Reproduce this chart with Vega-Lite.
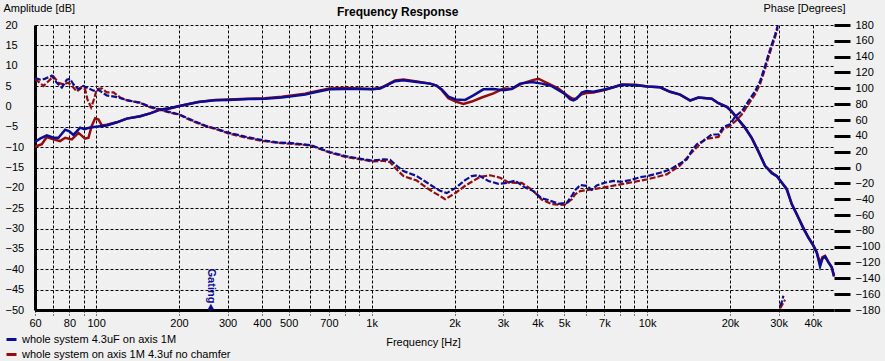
{
"$schema": "https://vega.github.io/schema/vega-lite/v6.json",
"width": 799, "height": 285,
"autosize": {"type": "none"},
"padding": {"left": 35, "top": 25, "right": 51, "bottom": 51},
"background": "#f0f0f0",
"config": {
  "view": {"stroke": null, "fill": "#f0f0f0"},
  "font": "Liberation Sans",
  "axis": {"labelFont": "Liberation Sans", "labelFontSize": 11, "labelColor": "#000", "titleFont": "Liberation Sans", "titleFontSize": 11, "titleFontWeight": "normal", "titleColor": "#000"}
},
"title": {"text": "Frequency Response", "anchor": "start", "frame": "group", "dx": 302, "dy": 24, "offset": 7, "fontSize": 12, "fontWeight": "bold", "font": "Liberation Sans", "color": "#000"},
"datasets": {
  "amp": [
    {"f":60,"v":-9.9,"s":"whole system on axis 1M 4.3uf no chamfer"},{"f":63.5,"v":-9.3,"s":"whole system on axis 1M 4.3uf no chamfer"},{"f":66.2,"v":-7.5,"s":"whole system on axis 1M 4.3uf no chamfer"},{"f":70,"v":-8.1,"s":"whole system on axis 1M 4.3uf no chamfer"},{"f":74,"v":-8.5,"s":"whole system on axis 1M 4.3uf no chamfer"},{"f":77.2,"v":-7.7,"s":"whole system on axis 1M 4.3uf no chamfer"},{"f":81.6,"v":-8.1,"s":"whole system on axis 1M 4.3uf no chamfer"},{"f":86.3,"v":-6.5,"s":"whole system on axis 1M 4.3uf no chamfer"},{"f":91.2,"v":-7.9,"s":"whole system on axis 1M 4.3uf no chamfer"},{"f":93.8,"v":-7.7,"s":"whole system on axis 1M 4.3uf no chamfer"},{"f":96.4,"v":-4.8,"s":"whole system on axis 1M 4.3uf no chamfer"},{"f":99.2,"v":-2.9,"s":"whole system on axis 1M 4.3uf no chamfer"},{"f":102,"v":-3.2,"s":"whole system on axis 1M 4.3uf no chamfer"},{"f":104.9,"v":-4.7,"s":"whole system on axis 1M 4.3uf no chamfer"},{"f":109.3,"v":-4.5,"s":"whole system on axis 1M 4.3uf no chamfer"},{"f":118.9,"v":-3.9,"s":"whole system on axis 1M 4.3uf no chamfer"},{"f":129.2,"v":-3.0,"s":"whole system on axis 1M 4.3uf no chamfer"},{"f":144.5,"v":-2.4,"s":"whole system on axis 1M 4.3uf no chamfer"},{"f":157,"v":-1.7,"s":"whole system on axis 1M 4.3uf no chamfer"},{"f":170.8,"v":-0.8,"s":"whole system on axis 1M 4.3uf no chamfer"},{"f":185.6,"v":-0.5,"s":"whole system on axis 1M 4.3uf no chamfer"},{"f":200.7,"v":0.1,"s":"whole system on axis 1M 4.3uf no chamfer"},{"f":235,"v":1.1,"s":"whole system on axis 1M 4.3uf no chamfer"},{"f":270,"v":1.6,"s":"whole system on axis 1M 4.3uf no chamfer"},{"f":302,"v":1.7,"s":"whole system on axis 1M 4.3uf no chamfer"},{"f":357,"v":1.9,"s":"whole system on axis 1M 4.3uf no chamfer"},{"f":410,"v":2.0,"s":"whole system on axis 1M 4.3uf no chamfer"},{"f":472,"v":2.4,"s":"whole system on axis 1M 4.3uf no chamfer"},{"f":574,"v":3.1,"s":"whole system on axis 1M 4.3uf no chamfer"},{"f":605,"v":3.5,"s":"whole system on axis 1M 4.3uf no chamfer"},{"f":703,"v":4.4,"s":"whole system on axis 1M 4.3uf no chamfer"},{"f":803,"v":4.5,"s":"whole system on axis 1M 4.3uf no chamfer"},{"f":903,"v":4.4,"s":"whole system on axis 1M 4.3uf no chamfer"},{"f":1007,"v":4.3,"s":"whole system on axis 1M 4.3uf no chamfer"},{"f":1074,"v":4.5,"s":"whole system on axis 1M 4.3uf no chamfer"},{"f":1135,"v":5.3,"s":"whole system on axis 1M 4.3uf no chamfer"},{"f":1217,"v":6.4,"s":"whole system on axis 1M 4.3uf no chamfer"},{"f":1305,"v":6.6,"s":"whole system on axis 1M 4.3uf no chamfer"},{"f":1459,"v":6.1,"s":"whole system on axis 1M 4.3uf no chamfer"},{"f":1631,"v":5.6,"s":"whole system on axis 1M 4.3uf no chamfer"},{"f":1720,"v":5.1,"s":"whole system on axis 1M 4.3uf no chamfer"},{"f":1798,"v":4.0,"s":"whole system on axis 1M 4.3uf no chamfer"},{"f":1900,"v":2.0,"s":"whole system on axis 1M 4.3uf no chamfer"},{"f":2021,"v":1.2,"s":"whole system on axis 1M 4.3uf no chamfer"},{"f":2154,"v":0.6,"s":"whole system on axis 1M 4.3uf no chamfer"},{"f":2310,"v":1.2,"s":"whole system on axis 1M 4.3uf no chamfer"},{"f":2511,"v":2.2,"s":"whole system on axis 1M 4.3uf no chamfer"},{"f":2769,"v":3.2,"s":"whole system on axis 1M 4.3uf no chamfer"},{"f":3010,"v":4.4,"s":"whole system on axis 1M 4.3uf no chamfer"},{"f":3227,"v":4.3,"s":"whole system on axis 1M 4.3uf no chamfer"},{"f":3508,"v":5.6,"s":"whole system on axis 1M 4.3uf no chamfer"},{"f":3814,"v":6.4,"s":"whole system on axis 1M 4.3uf no chamfer"},{"f":4033,"v":6.8,"s":"whole system on axis 1M 4.3uf no chamfer"},{"f":4385,"v":5.6,"s":"whole system on axis 1M 4.3uf no chamfer"},{"f":4767,"v":4.4,"s":"whole system on axis 1M 4.3uf no chamfer"},{"f":5110,"v":2.8,"s":"whole system on axis 1M 4.3uf no chamfer"},{"f":5328,"v":2.0,"s":"whole system on axis 1M 4.3uf no chamfer"},{"f":5479,"v":1.8,"s":"whole system on axis 1M 4.3uf no chamfer"},{"f":5792,"v":3.0,"s":"whole system on axis 1M 4.3uf no chamfer"},{"f":6023,"v":3.3,"s":"whole system on axis 1M 4.3uf no chamfer"},{"f":6386,"v":3.4,"s":"whole system on axis 1M 4.3uf no chamfer"},{"f":7061,"v":4.1,"s":"whole system on axis 1M 4.3uf no chamfer"},{"f":7547,"v":4.7,"s":"whole system on axis 1M 4.3uf no chamfer"},{"f":8093,"v":5.4,"s":"whole system on axis 1M 4.3uf no chamfer"},{"f":9098,"v":5.3,"s":"whole system on axis 1M 4.3uf no chamfer"},{"f":10028,"v":4.9,"s":"whole system on axis 1M 4.3uf no chamfer"},{"f":11147,"v":4.7,"s":"whole system on axis 1M 4.3uf no chamfer"},{"f":12119,"v":3.6,"s":"whole system on axis 1M 4.3uf no chamfer"},{"f":13180,"v":2.9,"s":"whole system on axis 1M 4.3uf no chamfer"},{"f":14325,"v":1.4,"s":"whole system on axis 1M 4.3uf no chamfer"},{"f":15358,"v":2.2,"s":"whole system on axis 1M 4.3uf no chamfer"},{"f":17168,"v":1.9,"s":"whole system on axis 1M 4.3uf no chamfer"},{"f":18155,"v":0.8,"s":"whole system on axis 1M 4.3uf no chamfer"},{"f":19465,"v":-0.1,"s":"whole system on axis 1M 4.3uf no chamfer"},{"f":20293,"v":-1.3,"s":"whole system on axis 1M 4.3uf no chamfer"},{"f":21455,"v":-3.3,"s":"whole system on axis 1M 4.3uf no chamfer"},{"f":22682,"v":-5.3,"s":"whole system on axis 1M 4.3uf no chamfer"},{"f":23978,"v":-7.8,"s":"whole system on axis 1M 4.3uf no chamfer"},{"f":25357,"v":-11.1,"s":"whole system on axis 1M 4.3uf no chamfer"},{"f":26808,"v":-14.6,"s":"whole system on axis 1M 4.3uf no chamfer"},{"f":28344,"v":-16.2,"s":"whole system on axis 1M 4.3uf no chamfer"},{"f":29556,"v":-17.1,"s":"whole system on axis 1M 4.3uf no chamfer"},{"f":30814,"v":-18.7,"s":"whole system on axis 1M 4.3uf no chamfer"},{"f":32137,"v":-20.2,"s":"whole system on axis 1M 4.3uf no chamfer"},{"f":33508,"v":-24.0,"s":"whole system on axis 1M 4.3uf no chamfer"},{"f":34940,"v":-26.5,"s":"whole system on axis 1M 4.3uf no chamfer"},{"f":36940,"v":-29.8,"s":"whole system on axis 1M 4.3uf no chamfer"},{"f":38519,"v":-32.2,"s":"whole system on axis 1M 4.3uf no chamfer"},{"f":40163,"v":-34.2,"s":"whole system on axis 1M 4.3uf no chamfer"},{"f":41298,"v":-35.8,"s":"whole system on axis 1M 4.3uf no chamfer"},{"f":42462,"v":-38.6,"s":"whole system on axis 1M 4.3uf no chamfer"},{"f":43293,"v":-37.0,"s":"whole system on axis 1M 4.3uf no chamfer"},{"f":44270,"v":-36.7,"s":"whole system on axis 1M 4.3uf no chamfer"},{"f":45520,"v":-38.2,"s":"whole system on axis 1M 4.3uf no chamfer"},{"f":46806,"v":-39.5,"s":"whole system on axis 1M 4.3uf no chamfer"},{"f":47700,"v":-41.8,"s":"whole system on axis 1M 4.3uf no chamfer"},
    {"f":60,"v":-8.7,"s":"whole system 4.3uF on axis 1M"},{"f":62.6,"v":-7.9,"s":"whole system 4.3uF on axis 1M"},{"f":66.2,"v":-7.1,"s":"whole system 4.3uF on axis 1M"},{"f":70,"v":-7.7,"s":"whole system 4.3uF on axis 1M"},{"f":73,"v":-7.7,"s":"whole system 4.3uF on axis 1M"},{"f":77.2,"v":-5.7,"s":"whole system 4.3uF on axis 1M"},{"f":80,"v":-6.1,"s":"whole system 4.3uF on axis 1M"},{"f":82.7,"v":-7.0,"s":"whole system 4.3uF on axis 1M"},{"f":87.5,"v":-5.2,"s":"whole system 4.3uF on axis 1M"},{"f":90.7,"v":-5.6,"s":"whole system 4.3uF on axis 1M"},{"f":95.1,"v":-5.2,"s":"whole system 4.3uF on axis 1M"},{"f":100,"v":-5.0,"s":"whole system 4.3uF on axis 1M"},{"f":109.3,"v":-4.7,"s":"whole system 4.3uF on axis 1M"},{"f":118.9,"v":-3.9,"s":"whole system 4.3uF on axis 1M"},{"f":129.2,"v":-3.0,"s":"whole system 4.3uF on axis 1M"},{"f":144.5,"v":-2.4,"s":"whole system 4.3uF on axis 1M"},{"f":157,"v":-1.7,"s":"whole system 4.3uF on axis 1M"},{"f":170.8,"v":-0.8,"s":"whole system 4.3uF on axis 1M"},{"f":185.6,"v":-0.4,"s":"whole system 4.3uF on axis 1M"},{"f":200.7,"v":0.1,"s":"whole system 4.3uF on axis 1M"},{"f":235,"v":1.1,"s":"whole system 4.3uF on axis 1M"},{"f":270,"v":1.5,"s":"whole system 4.3uF on axis 1M"},{"f":302,"v":1.6,"s":"whole system 4.3uF on axis 1M"},{"f":357,"v":1.8,"s":"whole system 4.3uF on axis 1M"},{"f":410,"v":1.9,"s":"whole system 4.3uF on axis 1M"},{"f":472,"v":2.2,"s":"whole system 4.3uF on axis 1M"},{"f":574,"v":2.9,"s":"whole system 4.3uF on axis 1M"},{"f":605,"v":3.3,"s":"whole system 4.3uF on axis 1M"},{"f":703,"v":4.2,"s":"whole system 4.3uF on axis 1M"},{"f":803,"v":4.3,"s":"whole system 4.3uF on axis 1M"},{"f":903,"v":4.3,"s":"whole system 4.3uF on axis 1M"},{"f":1007,"v":4.2,"s":"whole system 4.3uF on axis 1M"},{"f":1074,"v":4.4,"s":"whole system 4.3uF on axis 1M"},{"f":1135,"v":5.2,"s":"whole system 4.3uF on axis 1M"},{"f":1217,"v":6.2,"s":"whole system 4.3uF on axis 1M"},{"f":1305,"v":6.4,"s":"whole system 4.3uF on axis 1M"},{"f":1459,"v":6.0,"s":"whole system 4.3uF on axis 1M"},{"f":1631,"v":5.6,"s":"whole system 4.3uF on axis 1M"},{"f":1720,"v":5.1,"s":"whole system 4.3uF on axis 1M"},{"f":1798,"v":4.2,"s":"whole system 4.3uF on axis 1M"},{"f":1900,"v":2.4,"s":"whole system 4.3uF on axis 1M"},{"f":2021,"v":1.7,"s":"whole system 4.3uF on axis 1M"},{"f":2185,"v":1.6,"s":"whole system 4.3uF on axis 1M"},{"f":2342,"v":2.7,"s":"whole system 4.3uF on axis 1M"},{"f":2546,"v":4.2,"s":"whole system 4.3uF on axis 1M"},{"f":2769,"v":4.3,"s":"whole system 4.3uF on axis 1M"},{"f":3010,"v":4.0,"s":"whole system 4.3uF on axis 1M"},{"f":3227,"v":4.3,"s":"whole system 4.3uF on axis 1M"},{"f":3459,"v":5.6,"s":"whole system 4.3uF on axis 1M"},{"f":3814,"v":6.0,"s":"whole system 4.3uF on axis 1M"},{"f":4147,"v":5.6,"s":"whole system 4.3uF on axis 1M"},{"f":4508,"v":5.0,"s":"whole system 4.3uF on axis 1M"},{"f":5012,"v":3.1,"s":"whole system 4.3uF on axis 1M"},{"f":5254,"v":1.8,"s":"whole system 4.3uF on axis 1M"},{"f":5400,"v":1.5,"s":"whole system 4.3uF on axis 1M"},{"f":5550,"v":1.9,"s":"whole system 4.3uF on axis 1M"},{"f":5792,"v":3.4,"s":"whole system 4.3uF on axis 1M"},{"f":6023,"v":3.8,"s":"whole system 4.3uF on axis 1M"},{"f":6386,"v":3.6,"s":"whole system 4.3uF on axis 1M"},{"f":7061,"v":4.2,"s":"whole system 4.3uF on axis 1M"},{"f":7547,"v":4.7,"s":"whole system 4.3uF on axis 1M"},{"f":8093,"v":5.3,"s":"whole system 4.3uF on axis 1M"},{"f":9098,"v":5.2,"s":"whole system 4.3uF on axis 1M"},{"f":10028,"v":4.9,"s":"whole system 4.3uF on axis 1M"},{"f":11147,"v":4.7,"s":"whole system 4.3uF on axis 1M"},{"f":12119,"v":3.6,"s":"whole system 4.3uF on axis 1M"},{"f":13180,"v":2.9,"s":"whole system 4.3uF on axis 1M"},{"f":14325,"v":1.5,"s":"whole system 4.3uF on axis 1M"},{"f":15358,"v":2.2,"s":"whole system 4.3uF on axis 1M"},{"f":17168,"v":1.9,"s":"whole system 4.3uF on axis 1M"},{"f":18155,"v":0.8,"s":"whole system 4.3uF on axis 1M"},{"f":19465,"v":-0.1,"s":"whole system 4.3uF on axis 1M"},{"f":20293,"v":-1.2,"s":"whole system 4.3uF on axis 1M"},{"f":21455,"v":-3.2,"s":"whole system 4.3uF on axis 1M"},{"f":22682,"v":-5.2,"s":"whole system 4.3uF on axis 1M"},{"f":23978,"v":-7.7,"s":"whole system 4.3uF on axis 1M"},{"f":25357,"v":-11.0,"s":"whole system 4.3uF on axis 1M"},{"f":26808,"v":-14.6,"s":"whole system 4.3uF on axis 1M"},{"f":28344,"v":-16.4,"s":"whole system 4.3uF on axis 1M"},{"f":29556,"v":-17.1,"s":"whole system 4.3uF on axis 1M"},{"f":30814,"v":-18.7,"s":"whole system 4.3uF on axis 1M"},{"f":32137,"v":-20.4,"s":"whole system 4.3uF on axis 1M"},{"f":33508,"v":-24.0,"s":"whole system 4.3uF on axis 1M"},{"f":34940,"v":-26.5,"s":"whole system 4.3uF on axis 1M"},{"f":36940,"v":-30.0,"s":"whole system 4.3uF on axis 1M"},{"f":38519,"v":-32.2,"s":"whole system 4.3uF on axis 1M"},{"f":40163,"v":-34.2,"s":"whole system 4.3uF on axis 1M"},{"f":41298,"v":-35.9,"s":"whole system 4.3uF on axis 1M"},{"f":42462,"v":-39.3,"s":"whole system 4.3uF on axis 1M"},{"f":43293,"v":-37.4,"s":"whole system 4.3uF on axis 1M"},{"f":44270,"v":-36.9,"s":"whole system 4.3uF on axis 1M"},{"f":45520,"v":-38.3,"s":"whole system 4.3uF on axis 1M"},{"f":46806,"v":-39.5,"s":"whole system 4.3uF on axis 1M"},{"f":47700,"v":-41.6,"s":"whole system 4.3uF on axis 1M"}
  ],
  "phase": [
    {"f":60,"v":112,"s":"whole system on axis 1M 4.3uf no chamfer","seg":1},{"f":64.4,"v":103,"s":"whole system on axis 1M 4.3uf no chamfer","seg":1},{"f":67.1,"v":109,"s":"whole system on axis 1M 4.3uf no chamfer","seg":1},{"f":70,"v":115,"s":"whole system on axis 1M 4.3uf no chamfer","seg":1},{"f":73,"v":107,"s":"whole system on axis 1M 4.3uf no chamfer","seg":1},{"f":76.1,"v":105,"s":"whole system on axis 1M 4.3uf no chamfer","seg":1},{"f":79.3,"v":107,"s":"whole system on axis 1M 4.3uf no chamfer","seg":1},{"f":82.7,"v":101,"s":"whole system on axis 1M 4.3uf no chamfer","seg":1},{"f":85.1,"v":96,"s":"whole system on axis 1M 4.3uf no chamfer","seg":1},{"f":88.7,"v":101,"s":"whole system on axis 1M 4.3uf no chamfer","seg":1},{"f":91.2,"v":99,"s":"whole system on axis 1M 4.3uf no chamfer","seg":1},{"f":93,"v":86,"s":"whole system on axis 1M 4.3uf no chamfer","seg":1},{"f":95.9,"v":76,"s":"whole system on axis 1M 4.3uf no chamfer","seg":1},{"f":97.8,"v":84,"s":"whole system on axis 1M 4.3uf no chamfer","seg":1},{"f":100.6,"v":99,"s":"whole system on axis 1M 4.3uf no chamfer","seg":1},{"f":104.9,"v":100,"s":"whole system on axis 1M 4.3uf no chamfer","seg":1},{"f":109.3,"v":95,"s":"whole system on axis 1M 4.3uf no chamfer","seg":1},{"f":115.6,"v":95,"s":"whole system on axis 1M 4.3uf no chamfer","seg":1},{"f":122.2,"v":88.5,"s":"whole system on axis 1M 4.3uf no chamfer","seg":1},{"f":129.2,"v":85,"s":"whole system on axis 1M 4.3uf no chamfer","seg":1},{"f":144.5,"v":81.5,"s":"whole system on axis 1M 4.3uf no chamfer","seg":1},{"f":157,"v":76,"s":"whole system on axis 1M 4.3uf no chamfer","seg":1},{"f":178,"v":71,"s":"whole system on axis 1M 4.3uf no chamfer","seg":1},{"f":200.7,"v":66.5,"s":"whole system on axis 1M 4.3uf no chamfer","seg":1},{"f":222.5,"v":59,"s":"whole system on axis 1M 4.3uf no chamfer","seg":1},{"f":248.6,"v":52.5,"s":"whole system on axis 1M 4.3uf no chamfer","seg":1},{"f":278,"v":47.5,"s":"whole system on axis 1M 4.3uf no chamfer","seg":1},{"f":302,"v":43,"s":"whole system on axis 1M 4.3uf no chamfer","seg":1},{"f":347,"v":38,"s":"whole system on axis 1M 4.3uf no chamfer","seg":1},{"f":401.6,"v":33.5,"s":"whole system on axis 1M 4.3uf no chamfer","seg":1},{"f":459,"v":31,"s":"whole system on axis 1M 4.3uf no chamfer","seg":1},{"f":503,"v":30,"s":"whole system on axis 1M 4.3uf no chamfer","seg":1},{"f":574,"v":28.5,"s":"whole system on axis 1M 4.3uf no chamfer","seg":1},{"f":605,"v":27.5,"s":"whole system on axis 1M 4.3uf no chamfer","seg":1},{"f":703,"v":19,"s":"whole system on axis 1M 4.3uf no chamfer","seg":1},{"f":803,"v":13.5,"s":"whole system on axis 1M 4.3uf no chamfer","seg":1},{"f":903,"v":10.5,"s":"whole system on axis 1M 4.3uf no chamfer","seg":1},{"f":1007,"v":7.7,"s":"whole system on axis 1M 4.3uf no chamfer","seg":1},{"f":1104,"v":8.5,"s":"whole system on axis 1M 4.3uf no chamfer","seg":1},{"f":1167,"v":6.7,"s":"whole system on axis 1M 4.3uf no chamfer","seg":1},{"f":1234,"v":-2.6,"s":"whole system on axis 1M 4.3uf no chamfer","seg":1},{"f":1305,"v":-10.8,"s":"whole system on axis 1M 4.3uf no chamfer","seg":1},{"f":1459,"v":-16.5,"s":"whole system on axis 1M 4.3uf no chamfer","seg":1},{"f":1586,"v":-25.7,"s":"whole system on axis 1M 4.3uf no chamfer","seg":1},{"f":1700,"v":-32.4,"s":"whole system on axis 1M 4.3uf no chamfer","seg":1},{"f":1773,"v":-36,"s":"whole system on axis 1M 4.3uf no chamfer","seg":1},{"f":1848,"v":-40.1,"s":"whole system on axis 1M 4.3uf no chamfer","seg":1},{"f":2021,"v":-31.9,"s":"whole system on axis 1M 4.3uf no chamfer","seg":1},{"f":2185,"v":-23.1,"s":"whole system on axis 1M 4.3uf no chamfer","seg":1},{"f":2310,"v":-18,"s":"whole system on axis 1M 4.3uf no chamfer","seg":1},{"f":2476,"v":-11.8,"s":"whole system on axis 1M 4.3uf no chamfer","seg":1},{"f":2693,"v":-9.8,"s":"whole system on axis 1M 4.3uf no chamfer","seg":1},{"f":2927,"v":-12.9,"s":"whole system on axis 1M 4.3uf no chamfer","seg":1},{"f":3139,"v":-19,"s":"whole system on axis 1M 4.3uf no chamfer","seg":1},{"f":3508,"v":-19.5,"s":"whole system on axis 1M 4.3uf no chamfer","seg":1},{"f":3814,"v":-27.8,"s":"whole system on axis 1M 4.3uf no chamfer","seg":1},{"f":4147,"v":-40.6,"s":"whole system on axis 1M 4.3uf no chamfer","seg":1},{"f":4508,"v":-46.3,"s":"whole system on axis 1M 4.3uf no chamfer","seg":1},{"f":5012,"v":-47.3,"s":"whole system on axis 1M 4.3uf no chamfer","seg":1},{"f":5328,"v":-40.1,"s":"whole system on axis 1M 4.3uf no chamfer","seg":1},{"f":5479,"v":-33.9,"s":"whole system on axis 1M 4.3uf no chamfer","seg":1},{"f":5713,"v":-29.8,"s":"whole system on axis 1M 4.3uf no chamfer","seg":1},{"f":6566,"v":-26.7,"s":"whole system on axis 1M 4.3uf no chamfer","seg":1},{"f":8093,"v":-21.1,"s":"whole system on axis 1M 4.3uf no chamfer","seg":1},{"f":10028,"v":-14.9,"s":"whole system on axis 1M 4.3uf no chamfer","seg":1},{"f":11788,"v":-8.7,"s":"whole system on axis 1M 4.3uf no chamfer","seg":1},{"f":13180,"v":2.6,"s":"whole system on axis 1M 4.3uf no chamfer","seg":1},{"f":14525,"v":19,"s":"whole system on axis 1M 4.3uf no chamfer","seg":1},{"f":16232,"v":36,"s":"whole system on axis 1M 4.3uf no chamfer","seg":1},{"f":18155,"v":38.6,"s":"whole system on axis 1M 4.3uf no chamfer","seg":1},{"f":18930,"v":48.9,"s":"whole system on axis 1M 4.3uf no chamfer","seg":1},{"f":20013,"v":52.5,"s":"whole system on axis 1M 4.3uf no chamfer","seg":1},{"f":20866,"v":58.1,"s":"whole system on axis 1M 4.3uf no chamfer","seg":1},{"f":22061,"v":66.9,"s":"whole system on axis 1M 4.3uf no chamfer","seg":1},{"f":23319,"v":79.7,"s":"whole system on axis 1M 4.3uf no chamfer","seg":1},{"f":24660,"v":92.6,"s":"whole system on axis 1M 4.3uf no chamfer","seg":1},{"f":25715,"v":105.4,"s":"whole system on axis 1M 4.3uf no chamfer","seg":1},{"f":26808,"v":124.5,"s":"whole system on axis 1M 4.3uf no chamfer","seg":1},{"f":27566,"v":138.9,"s":"whole system on axis 1M 4.3uf no chamfer","seg":1},{"f":28344,"v":152.2,"s":"whole system on axis 1M 4.3uf no chamfer","seg":1},{"f":29145,"v":164.6,"s":"whole system on axis 1M 4.3uf no chamfer","seg":1},{"f":29803,"v":176,"s":"whole system on axis 1M 4.3uf no chamfer","seg":1},
    {"f":30389,"v":-178,"s":"whole system on axis 1M 4.3uf no chamfer","seg":2},{"f":31696,"v":-167,"s":"whole system on axis 1M 4.3uf no chamfer","seg":2},
    {"f":60,"v":113,"s":"whole system 4.3uF on axis 1M","seg":1},{"f":62.6,"v":111,"s":"whole system 4.3uF on axis 1M","seg":1},{"f":65.1,"v":112,"s":"whole system 4.3uF on axis 1M","seg":1},{"f":69,"v":116,"s":"whole system 4.3uF on axis 1M","seg":1},{"f":72,"v":107,"s":"whole system 4.3uF on axis 1M","seg":1},{"f":75.1,"v":101,"s":"whole system 4.3uF on axis 1M","seg":1},{"f":78.3,"v":111,"s":"whole system 4.3uF on axis 1M","seg":1},{"f":80.4,"v":112,"s":"whole system 4.3uF on axis 1M","seg":1},{"f":82.7,"v":105,"s":"whole system 4.3uF on axis 1M","seg":1},{"f":86.3,"v":99,"s":"whole system 4.3uF on axis 1M","seg":1},{"f":89.9,"v":103,"s":"whole system 4.3uF on axis 1M","seg":1},{"f":93.8,"v":100,"s":"whole system 4.3uF on axis 1M","seg":1},{"f":97.8,"v":97,"s":"whole system 4.3uF on axis 1M","seg":1},{"f":102,"v":98,"s":"whole system 4.3uF on axis 1M","seg":1},{"f":109.3,"v":91,"s":"whole system 4.3uF on axis 1M","seg":1},{"f":118.9,"v":89,"s":"whole system 4.3uF on axis 1M","seg":1},{"f":129.2,"v":85,"s":"whole system 4.3uF on axis 1M","seg":1},{"f":144.5,"v":82,"s":"whole system 4.3uF on axis 1M","seg":1},{"f":157,"v":77,"s":"whole system 4.3uF on axis 1M","seg":1},{"f":178,"v":71.5,"s":"whole system 4.3uF on axis 1M","seg":1},{"f":200.7,"v":67,"s":"whole system 4.3uF on axis 1M","seg":1},{"f":222.5,"v":60,"s":"whole system 4.3uF on axis 1M","seg":1},{"f":248.6,"v":53,"s":"whole system 4.3uF on axis 1M","seg":1},{"f":278,"v":48,"s":"whole system 4.3uF on axis 1M","seg":1},{"f":302,"v":44,"s":"whole system 4.3uF on axis 1M","seg":1},{"f":347,"v":39,"s":"whole system 4.3uF on axis 1M","seg":1},{"f":401.6,"v":34.5,"s":"whole system 4.3uF on axis 1M","seg":1},{"f":459,"v":31.4,"s":"whole system 4.3uF on axis 1M","seg":1},{"f":503,"v":31,"s":"whole system 4.3uF on axis 1M","seg":1},{"f":574,"v":29,"s":"whole system 4.3uF on axis 1M","seg":1},{"f":605,"v":28,"s":"whole system 4.3uF on axis 1M","seg":1},{"f":703,"v":19.5,"s":"whole system 4.3uF on axis 1M","seg":1},{"f":803,"v":14.4,"s":"whole system 4.3uF on axis 1M","seg":1},{"f":903,"v":11.3,"s":"whole system 4.3uF on axis 1M","seg":1},{"f":1007,"v":8.7,"s":"whole system 4.3uF on axis 1M","seg":1},{"f":1104,"v":10.3,"s":"whole system 4.3uF on axis 1M","seg":1},{"f":1167,"v":9.8,"s":"whole system 4.3uF on axis 1M","seg":1},{"f":1234,"v":2,"s":"whole system 4.3uF on axis 1M","seg":1},{"f":1305,"v":-4.6,"s":"whole system 4.3uF on axis 1M","seg":1},{"f":1459,"v":-10.8,"s":"whole system 4.3uF on axis 1M","seg":1},{"f":1586,"v":-19,"s":"whole system 4.3uF on axis 1M","seg":1},{"f":1700,"v":-25.7,"s":"whole system 4.3uF on axis 1M","seg":1},{"f":1773,"v":-29.3,"s":"whole system 4.3uF on axis 1M","seg":1},{"f":1874,"v":-32.4,"s":"whole system 4.3uF on axis 1M","seg":1},{"f":2021,"v":-25.7,"s":"whole system 4.3uF on axis 1M","seg":1},{"f":2185,"v":-15.9,"s":"whole system 4.3uF on axis 1M","seg":1},{"f":2310,"v":-10.8,"s":"whole system 4.3uF on axis 1M","seg":1},{"f":2442,"v":-9.8,"s":"whole system 4.3uF on axis 1M","seg":1},{"f":2655,"v":-17,"s":"whole system 4.3uF on axis 1M","seg":1},{"f":2887,"v":-20.6,"s":"whole system 4.3uF on axis 1M","seg":1},{"f":3094,"v":-19.5,"s":"whole system 4.3uF on axis 1M","seg":1},{"f":3318,"v":-16.5,"s":"whole system 4.3uF on axis 1M","seg":1},{"f":3557,"v":-24.2,"s":"whole system 4.3uF on axis 1M","seg":1},{"f":3868,"v":-29.8,"s":"whole system 4.3uF on axis 1M","seg":1},{"f":4147,"v":-39.1,"s":"whole system 4.3uF on axis 1M","seg":1},{"f":4385,"v":-41.1,"s":"whole system 4.3uF on axis 1M","seg":1},{"f":4767,"v":-45.8,"s":"whole system 4.3uF on axis 1M","seg":1},{"f":5110,"v":-44.7,"s":"whole system 4.3uF on axis 1M","seg":1},{"f":5328,"v":-36,"s":"whole system 4.3uF on axis 1M","seg":1},{"f":5479,"v":-28.8,"s":"whole system 4.3uF on axis 1M","seg":1},{"f":5713,"v":-22.1,"s":"whole system 4.3uF on axis 1M","seg":1},{"f":6028,"v":-23.1,"s":"whole system 4.3uF on axis 1M","seg":1},{"f":6297,"v":-28.3,"s":"whole system 4.3uF on axis 1M","seg":1},{"f":6566,"v":-22.6,"s":"whole system 4.3uF on axis 1M","seg":1},{"f":7061,"v":-19,"s":"whole system 4.3uF on axis 1M","seg":1},{"f":7547,"v":-17,"s":"whole system 4.3uF on axis 1M","seg":1},{"f":8093,"v":-18,"s":"whole system 4.3uF on axis 1M","seg":1},{"f":8676,"v":-15.9,"s":"whole system 4.3uF on axis 1M","seg":1},{"f":9432,"v":-12.3,"s":"whole system 4.3uF on axis 1M","seg":1},{"f":10028,"v":-10.8,"s":"whole system 4.3uF on axis 1M","seg":1},{"f":11147,"v":-6.7,"s":"whole system 4.3uF on axis 1M","seg":1},{"f":12119,"v":-2.6,"s":"whole system 4.3uF on axis 1M","seg":1},{"f":13180,"v":5.1,"s":"whole system 4.3uF on axis 1M","seg":1},{"f":13932,"v":10.3,"s":"whole system 4.3uF on axis 1M","seg":1},{"f":14525,"v":21.1,"s":"whole system 4.3uF on axis 1M","seg":1},{"f":15146,"v":29.3,"s":"whole system 4.3uF on axis 1M","seg":1},{"f":16008,"v":33.4,"s":"whole system 4.3uF on axis 1M","seg":1},{"f":17168,"v":41.7,"s":"whole system 4.3uF on axis 1M","seg":1},{"f":18155,"v":41.7,"s":"whole system 4.3uF on axis 1M","seg":1},{"f":18930,"v":51.4,"s":"whole system 4.3uF on axis 1M","seg":1},{"f":20013,"v":54.5,"s":"whole system 4.3uF on axis 1M","seg":1},{"f":20866,"v":64.3,"s":"whole system 4.3uF on axis 1M","seg":1},{"f":22061,"v":71,"s":"whole system 4.3uF on axis 1M","seg":1},{"f":23319,"v":83.8,"s":"whole system 4.3uF on axis 1M","seg":1},{"f":24660,"v":96.2,"s":"whole system 4.3uF on axis 1M","seg":1},{"f":25715,"v":109,"s":"whole system 4.3uF on axis 1M","seg":1},{"f":26808,"v":128.1,"s":"whole system 4.3uF on axis 1M","seg":1},{"f":27566,"v":142.5,"s":"whole system 4.3uF on axis 1M","seg":1},{"f":28344,"v":155.3,"s":"whole system 4.3uF on axis 1M","seg":1},{"f":29145,"v":167.7,"s":"whole system 4.3uF on axis 1M","seg":1},{"f":29803,"v":179,"s":"whole system 4.3uF on axis 1M","seg":1},
    {"f":30389,"v":-175,"s":"whole system 4.3uF on axis 1M","seg":2},{"f":30814,"v":-170,"s":"whole system 4.3uF on axis 1M","seg":2},{"f":31249,"v":-162,"s":"whole system 4.3uF on axis 1M","seg":2}
  ],
  "gate": [{"f":261,"v":-44.1,"label":"Gating"}],
  "gatemark": [{"f":261,"v":-49.2}]
},
"layer": [
  {"data": {"name": "amp"},
   "mark": {"type": "line", "strokeWidth": 2.5},
   "encoding": {
     "x": {"field": "f", "type": "quantitative",
           "scale": {"type": "log", "domain": [60, 47700], "nice": false},
           "axis": {"values": [60,70,80,90,100,200,300,400,500,600,700,800,900,1000,2000,3000,4000,5000,6000,7000,8000,9000,10000,20000,30000,40000],
                    "labelExpr": "indexof([60,80,100,200,300,400,500,700], datum.value) >= 0 ? '' + datum.value : (indexof([1000,2000,3000,4000,5000,7000,10000,20000,30000,40000], datum.value) >= 0 ? (datum.value/1000) + 'k' : '')",
                    "labelOverlap": false, "labelFlush": false, "labelPadding": 2,
                    "grid": true, "gridColor": "#000", "gridDash": [3,2], "gridWidth": 1, "gridOpacity": 1,
                    "ticks": true, "tickSize": 5, "tickColor": "#000", "tickDash": [2,2], "tickWidth": 1,
                    "domainColor": "#000", "domainWidth": 3,
                    "title": "Frequency [Hz]", "titleX": 388, "titleY": 32, "titleAlign": "center", "titleBaseline": "middle"}},
     "y": {"field": "v", "type": "quantitative",
           "scale": {"domain": [-50, 20], "nice": false, "zero": false},
           "axis": {"values": [-50,-45,-40,-35,-30,-25,-20,-15,-10,-5,0,5,10,15,20],
                    "labelOverlap": false, "labelFlush": false, "labelBound": false,
                    "grid": true, "gridColor": "#000", "gridDash": [3,2], "gridWidth": 1, "gridOpacity": 1,
                    "ticks": false, "labelAlign": "left", "labelPadding": 30, "labelBaseline": "middle",
                    "domainColor": "#000", "domainWidth": 3,
                    "title": "Amplitude [dB]", "titleAngle": 0, "titleX": -32, "titleY": -17, "titleAlign": "left", "titleBaseline": "middle"}},
     "color": {"field": "s", "type": "nominal",
               "scale": {"domain": ["whole system 4.3uF on axis 1M", "whole system on axis 1M 4.3uf no chamfer"], "range": ["#0c0c96", "#960c0c"]},
               "legend": {"orient": "none", "legendX": -30, "legendY": 308, "title": null, "symbolType": "stroke", "symbolStrokeWidth": 3, "symbolSize": 100, "labelFont": "Liberation Sans", "labelFontSize": 11, "labelColor": "#000", "labelLimit": 0, "rowPadding": 2, "symbolDash": [1,0]}}
   }},
  {"data": {"name": "gate"},
   "mark": {"type": "text", "angle": 90, "font": "Liberation Sans", "fontSize": 11, "fontWeight": "bold", "color": "#0c0c96", "align": "center", "baseline": "middle"},
   "encoding": {"x": {"field": "f", "type": "quantitative"},
                "y": {"field": "v", "type": "quantitative", "scale": {"domain": [-50, 20], "nice": false, "zero": false}, "axis": null},
                "text": {"field": "label"}}},
  {"data": {"name": "gatemark"},
   "mark": {"type": "point", "shape": "triangle-up", "filled": true, "size": 45, "color": "#0c0c96", "opacity": 1},
   "encoding": {"x": {"field": "f", "type": "quantitative"},
                "y": {"field": "v", "type": "quantitative", "scale": {"domain": [-50, 20], "nice": false, "zero": false}, "axis": null}}},
  {"data": {"name": "phase"},
   "mark": {"type": "line", "strokeWidth": 2.2, "strokeDash": [6, 2]},
   "encoding": {
     "x": {"field": "f", "type": "quantitative"},
     "y": {"field": "v", "type": "quantitative",
           "scale": {"domain": [-180, 180], "nice": false, "zero": false},
           "axis": {"orient": "right", "values": [-180,-160,-140,-120,-100,-80,-60,-40,-20,0,20,40,60,80,100,120,140,160,180],
                    "labelOverlap": false, "labelFlush": false,
                    "grid": false, "domain": false, "ticks": true, "tickSize": 16, "tickWidth": 3, "tickColor": "#000",
                    "labelPadding": 5, "labelAlign": "left", "labelBaseline": "middle",
                    "title": "Phase [Degrees]", "titleAngle": 0, "titleX": -71, "titleY": -17, "titleAlign": "left", "titleBaseline": "middle"}},
     "color": {"field": "s", "type": "nominal"},
     "detail": {"field": "seg", "type": "nominal"}
   }}
],
"resolve": {"scale": {"y": "independent"}}
}
